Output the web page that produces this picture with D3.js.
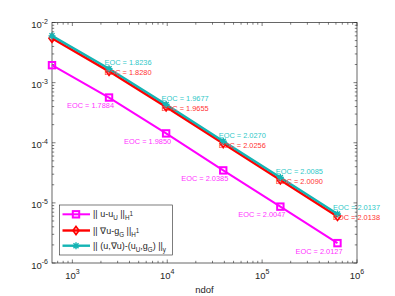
<!DOCTYPE html>
<html>
<head>
<meta charset="utf-8">
<script src="https://cdn.jsdelivr.net/npm/d3@7"></script>
<style>
  body { margin: 0; background: #fff; }
  text { font-family: "Liberation Sans", Arial, sans-serif; }
</style>
</head>
<body>
<div id="chart"></div>
<script>
// degrees of freedom per refinement level
var ndof = [610, 2434, 9730, 38914, 155650, 622594];

// errors of the three norms
var errU = [1.95e-3, 5.65e-4, 1.43e-4, 3.47e-5, 8.66e-6, 2.14e-6];
var errG = [5.47e-3, 1.54e-3, 3.95e-4, 9.69e-5, 2.41e-5, 5.96e-6];
var errY = [6.0e-3, 1.70e-3, 4.33e-4, 1.06e-4, 2.64e-5, 6.54e-6];

// experimental orders of convergence (from level 2 on)
var eocU = ["1.7884", "1.9850", "2.0385", "2.0047", "2.0127"];
var eocG = ["1.8280", "1.9655", "2.0256", "2.0090", "2.0138"];
var eocY = ["1.8236", "1.9677", "2.0270", "2.0085", "2.0137"];

var xTicks = [1e3, 1e4, 1e5, 1e6];
var xTickExp = ["3", "4", "5", "6"];
var yTicks = [1e-6, 1e-5, 1e-4, 1e-3, 1e-2];
var yTickExp = ["-6", "-5", "-4", "-3", "-2"];

var width = 395, height = 296;
var plotLeft = 52, plotRight = 357, plotTop = 22.5, plotBottom = 263;
var axisColor = "#262626";

var x = d3.scaleLog().domain([610, 1e6]).range([plotLeft, plotRight]);
var y = d3.scaleLog().domain([1e-6, 1e-2]).range([plotBottom, plotTop]);

var svg = d3.select("#chart").append("svg")
    .attr("width", width)
    .attr("height", height);

svg.append("rect")
    .attr("x", plotLeft).attr("y", plotTop)
    .attr("width", plotRight - plotLeft).attr("height", plotBottom - plotTop)
    .attr("fill", "#fff");

// minor + major ticks, drawn inside on all four sides
function minorValues(lo, hi) {
    var out = [];
    for (var e = Math.floor(Math.log10(lo)); e < Math.ceil(Math.log10(hi)) + 1; e++) {
        for (var k = 1; k < 10; k++) {
            var v = k * Math.pow(10, e);
            if (v >= lo * 0.999 && v <= hi * 1.001) out.push({ v: v, major: k == 1 });
        }
    }
    return out;
}

var ticks = svg.append("g").attr("stroke", axisColor).attr("stroke-width", 0.6);

minorValues(610, 1e6).forEach(function(t) {
    var len = t.major ? 3.5 : 2.2;
    var px = x(t.v);
    ticks.append("line").attr("x1", px).attr("x2", px).attr("y1", plotBottom).attr("y2", plotBottom - len);
    ticks.append("line").attr("x1", px).attr("x2", px).attr("y1", plotTop).attr("y2", plotTop + len);
});
minorValues(1e-6, 1e-2).forEach(function(t) {
    var len = t.major ? 3.5 : 2.2;
    var py = y(t.v);
    ticks.append("line").attr("x1", plotLeft).attr("x2", plotLeft + len).attr("y1", py).attr("y2", py);
    ticks.append("line").attr("x1", plotRight).attr("x2", plotRight - len).attr("y1", py).attr("y2", py);
});

svg.append("rect")
    .attr("x", plotLeft).attr("y", plotTop)
    .attr("width", plotRight - plotLeft).attr("height", plotBottom - plotTop)
    .attr("fill", "none")
    .attr("stroke", axisColor)
    .attr("stroke-width", 0.7);

// tick labels 10^k
xTicks.forEach(function(v, i) {
    var t = svg.append("text")
        .attr("x", x(v))
        .attr("y", 278.5)
        .attr("text-anchor", "middle")
        .attr("fill", axisColor)
        .style("font-size", "9.5px");
    t.append("tspan").text("10");
    t.append("tspan").attr("dy", -4.2).style("font-size", "7px").text(xTickExp[i]);
});
yTicks.forEach(function(v, i) {
    var t = svg.append("text")
        .attr("x", plotLeft - 4)
        .attr("y", y(v) + 5.5)
        .attr("text-anchor", "end")
        .attr("fill", axisColor)
        .style("font-size", "9.5px");
    t.append("tspan").text("10");
    t.append("tspan").attr("dy", -4.2).style("font-size", "7px").text(yTickExp[i]);
});

svg.append("text")
    .attr("x", (plotLeft + plotRight) / 2)
    .attr("y", 293)
    .attr("text-anchor", "middle")
    .attr("fill", axisColor)
    .style("font-size", "9.5px")
    .text("ndof");

// markers
function drawMarker(g, kind, cx, cy, color) {
    if (kind == "square") {
        g.append("rect").attr("x", cx - 3.2).attr("y", cy - 3.2).attr("width", 6.4).attr("height", 6.4)
            .attr("fill", "none").attr("stroke", color).attr("stroke-width", 2);
    } else if (kind == "diamond") {
        g.append("path").attr("d", "M" + cx + "," + (cy - 4) + "L" + (cx + 3) + "," + cy +
                "L" + cx + "," + (cy + 4) + "L" + (cx - 3) + "," + cy + "Z")
            .attr("fill", "none").attr("stroke", color).attr("stroke-width", 1.7);
    } else {
        var r = 3.5, d = r * 0.72;
        g.append("path").attr("d",
                "M" + (cx - r) + "," + cy + "L" + (cx + r) + "," + cy +
                "M" + cx + "," + (cy - r) + "L" + cx + "," + (cy + r) +
                "M" + (cx - d) + "," + (cy - d) + "L" + (cx + d) + "," + (cy + d) +
                "M" + (cx - d) + "," + (cy + d) + "L" + (cx + d) + "," + (cy - d))
            .attr("stroke", color).attr("stroke-width", 1.4);
    }
}

var series = [
    { values: errU, eoc: eocU, color: "#ff00ff", text: "#ff33ff", marker: "square", width: 2, dx: -42, dy: 10.5 },
    { values: errG, eoc: eocG, color: "#ff0000", text: "#ff3333", marker: "diamond", width: 2.4, dx: -4.5, dy: 4 },
    { values: errY, eoc: eocY, color: "#14b4b4", text: "#2ec8c8", marker: "star", width: 2.4, dx: -4.5, dy: -3.5 }
];

var line = d3.line()
    .x(function(d) { return x(d[0]); })
    .y(function(d) { return y(d[1]); });

series.forEach(function(s) {
    var pts = ndof.map(function(n, i) { return [n, s.values[i]]; });
    svg.append("path")
        .attr("d", line(pts))
        .attr("fill", "none")
        .attr("stroke", s.color)
        .attr("stroke-width", s.width);
    var g = svg.append("g");
    pts.forEach(function(p) { drawMarker(g, s.marker, x(p[0]), y(p[1]), s.color); });
});

series.forEach(function(s) {
    s.eoc.forEach(function(e, i) {
        svg.append("text")
            .attr("x", x(ndof[i + 1]) + s.dx)
            .attr("y", y(s.values[i + 1]) + s.dy)
            .attr("fill", s.text)
            .style("font-size", "7.4px")
            .text("EOC = " + e);
    });
});

// legend
var legendLabels = [
    [["|| u-u", 0], ["U", 1], [" ||", 0], ["H", 1], ["1", 2]],
    [["|| \u2207u-g", 0], ["G", 1], [" ||", 0], ["H", 1], ["1", 2]],
    [["|| (u,\u2207u)-(u", 0], ["U", 1], [",g", 0], ["G", 1], [") ||", 0], ["y", 1]]
];

var lg = svg.append("g");
lg.append("rect")
    .attr("x", 59.5).attr("y", 205)
    .attr("width", 113).attr("height", 50)
    .attr("fill", "#fff")
    .attr("stroke", axisColor)
    .attr("stroke-width", 0.6);

var legendY = [214.3, 230.5, 245.7];
series.forEach(function(s, i) {
    var ly = legendY[i];
    lg.append("line").attr("x1", 62.5).attr("x2", 90).attr("y1", ly).attr("y2", ly)
        .attr("stroke", s.color).attr("stroke-width", s.width);
    drawMarker(lg, s.marker, 76, ly, s.color);
    var t = lg.append("text")
        .attr("x", 93)
        .attr("y", ly + 3)
        .attr("fill", axisColor)
        .style("font-size", "9px");
    var shift = 0;
    legendLabels[i].forEach(function(seg) {
        var level = seg[1] == 0 ? 0 : (seg[1] == 1 ? 3 : -1);
        t.append("tspan")
            .attr("dy", level - shift)
            .style("font-size", seg[1] == 0 ? "9px" : "6.3px")
            .text(seg[0]);
        shift = level;
    });
});
</script>
</body>
</html>
